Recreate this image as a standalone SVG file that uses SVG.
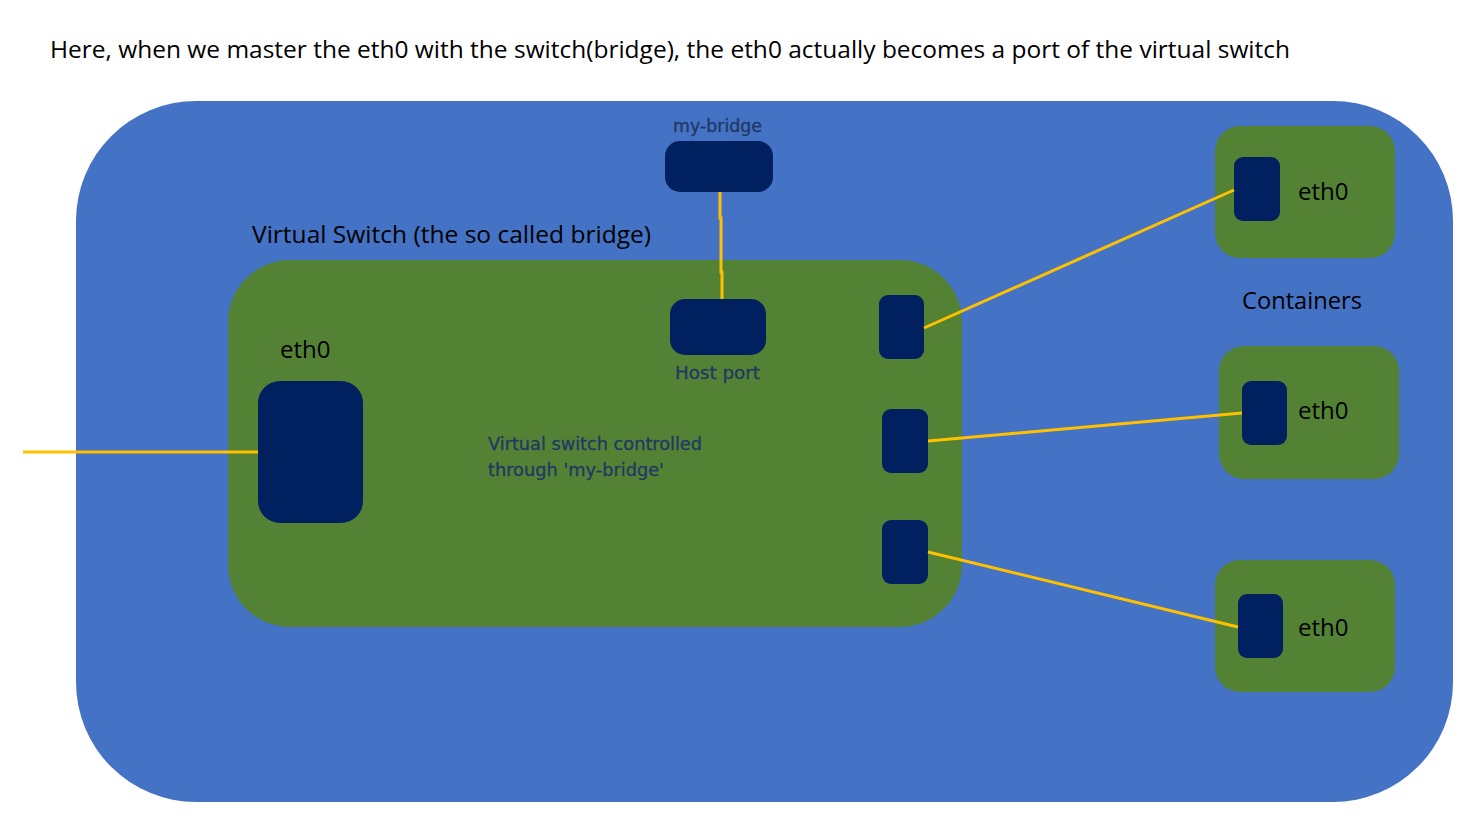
<svg xmlns="http://www.w3.org/2000/svg" width="1475" height="830" viewBox="0 0 1475 830">
<style>
.blue{fill:#4472C4}
.green{fill:#548235}
.port{fill:#002060}
.wire{stroke:#FFC000;stroke-width:3;fill:none}
.t{font-family:"Open Sans","Liberation Sans",sans-serif;fill:#000}
.c{font-family:"DejaVu Sans","Liberation Sans",sans-serif;fill:#1F3864;font-size:17px;stroke:#1F3864;stroke-width:0.3}
</style>
<rect width="1475" height="830" fill="#fff"/>
<text class="t" x="50" y="58" font-size="23" textLength="1240" lengthAdjust="spacingAndGlyphs">Here, when we master the eth0 with the switch(bridge), the eth0 actually becomes a port of the virtual switch</text>
<g id="host">
<rect class="blue" x="76" y="101" width="1377" height="701" rx="120" ry="120"/>
</g>
<g id="virtual-switch">
<rect class="green" x="228" y="260" width="734" height="367" rx="62" ry="62"/>
<text class="t" x="252" y="243" font-size="23" textLength="399" lengthAdjust="spacingAndGlyphs">Virtual Switch (the so called bridge)</text>
<text class="c" x="488" y="450" textLength="214" lengthAdjust="spacingAndGlyphs">Virtual switch controlled</text>
<text class="c" x="488" y="476" textLength="176" lengthAdjust="spacingAndGlyphs">through 'my-bridge'</text>
</g>
<g id="host-eth0">
<rect class="port" x="258" y="381" width="105" height="142" rx="22"/>
<text class="t" x="280" y="358" font-size="24">eth0</text>
</g>
<g id="my-bridge">
<rect class="port" x="665" y="141" width="108" height="51" rx="15"/>
<text class="c" x="673" y="132" textLength="89" lengthAdjust="spacingAndGlyphs">my-bridge</text>
</g>
<g id="host-port">
<rect class="port" x="670" y="299" width="96" height="56" rx="15"/>
<text class="c" x="675" y="379" textLength="85" lengthAdjust="spacingAndGlyphs">Host port</text>
</g>
<g id="switch-port-1"><rect class="port" x="879" y="295" width="45" height="64" rx="9"/></g>
<g id="switch-port-2"><rect class="port" x="882" y="409" width="46" height="64" rx="9"/></g>
<g id="switch-port-3"><rect class="port" x="882" y="520" width="46" height="64" rx="9"/></g>
<g id="containers-label">
<text class="t" x="1242" y="309" font-size="23" textLength="120" lengthAdjust="spacingAndGlyphs">Containers</text>
</g>
<g id="container-1">
<rect class="green" x="1215" y="126" width="180" height="132" rx="25"/>
<rect class="port" x="1234" y="157" width="46" height="64" rx="9"/>
<text class="t" x="1298" y="200" font-size="24">eth0</text>
</g>
<g id="container-2">
<rect class="green" x="1219" y="346" width="180" height="133" rx="25"/>
<rect class="port" x="1242" y="381" width="45" height="64" rx="9"/>
<text class="t" x="1298" y="419" font-size="24">eth0</text>
</g>
<g id="container-3">
<rect class="green" x="1215" y="560" width="180" height="132" rx="25"/>
<rect class="port" x="1238" y="594" width="45" height="64" rx="9"/>
<text class="t" x="1298" y="636" font-size="24">eth0</text>
</g>
<g id="connectors">
<line class="wire" x1="23" y1="452" x2="258" y2="452"/>
<polyline class="wire" points="720,192 720,218 721,218 721,272 722,272 722,299"/>
<line class="wire" x1="924" y1="328" x2="1234" y2="190"/>
<line class="wire" x1="928" y1="441" x2="1242" y2="413"/>
<line class="wire" x1="928" y1="552" x2="1238" y2="627"/>
</g>
</svg>
